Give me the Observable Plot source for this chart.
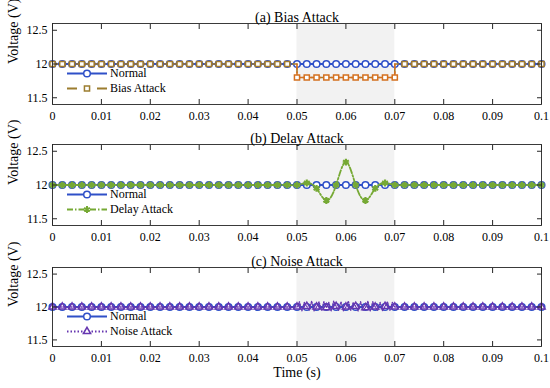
<!DOCTYPE html>
<html><head><meta charset="utf-8">
<script src="https://cdn.jsdelivr.net/npm/d3@7"></script>
<script src="https://cdn.jsdelivr.net/npm/@observablehq/plot@0.6"></script>
<style>
body{margin:0;background:#fff;}
#chart{width:550px;height:388px;position:relative;overflow:hidden;font-family:"Liberation Serif","Times New Roman",serif;background:#fff;}
.panel{position:relative;height:auto;}
.panel svg{display:block;}
.legend{position:absolute;left:65px;font-size:12px;line-height:15px;color:#000;font-family:"Liberation Serif",serif;}
.row{display:flex;align-items:center;height:15px;}
.row svg{display:block;margin-right:1px;}
</style>
</head><body><div id="chart"></div>
<script>
// ---------- data ----------
const time = [0,0.002,0.004,0.006,0.008,0.01,0.012,0.014,0.016,0.018,0.02,0.022,0.024,0.026,0.028,0.03,0.032,0.034,0.036,0.038,0.04,0.042,0.044,0.046,0.048,0.05,0.052,0.054,0.056,0.058,0.06,0.062,0.064,0.066,0.068,0.07,0.072,0.074,0.076,0.078,0.08,0.082,0.084,0.086,0.088,0.09,0.092,0.094,0.096,0.098,0.1];
const normalV = [12,12,12,12,12,12,12,12,12,12,12,12,12,12,12,12,12,12,12,12,12,12,12,12,12,12,12,12,12,12,12,12,12,12,12,12,12,12,12,12,12,12,12,12,12,12,12,12,12,12,12];
const biasV = [12,12,12,12,12,12,12,12,12,12,12,12,12,12,12,12,12,12,12,12,12,12,12,12,12,11.8,11.8,11.8,11.8,11.8,11.8,11.8,11.8,11.8,11.8,11.8,12,12,12,12,12,12,12,12,12,12,12,12,12,12,12];
const delayV = [12,12,12,12,12,12,12,12,12,12,12,12,12,12,12,12,12,12,12,12,12,12,12,12,12,12.0,12.03,11.95,11.77,12.0,12.34,12.0,11.77,11.95,12.03,12.0,12,12,12,12,12,12,12,12,12,12,12,12,12,12,12];
const noiseBurstTime = [0.05,0.0505,0.051,0.0515,0.052,0.0525,0.053,0.0535,0.054,0.0545,0.055,0.0555,0.056,0.0565,0.057,0.0575,0.058,0.0585,0.059,0.0595,0.06,0.0605,0.061,0.0615,0.062,0.0625,0.063,0.0635,0.064,0.0645,0.065,0.0655,0.066,0.0665,0.067,0.0675,0.068,0.0685,0.069,0.0695,0.07];
const noiseBurstV = [12.00,12.08,11.94,12.07,12.01,11.95,12.09,11.94,12.00,12.08,11.95,12.08,11.99,12.07,11.94,12.09,12.01,11.95,12.08,11.94,12.00,12.09,11.95,12.07,12.01,11.94,12.08,11.95,11.99,12.09,11.94,12.08,12.00,11.95,12.07,11.94,12.01,12.08,11.95,12.07,12.00];
const attackWindow = [0.05, 0.07];
const xTicks = [0,0.01,0.02,0.03,0.04,0.05,0.06,0.07,0.08,0.09,0.1];
const xTickLabels = ["0","0.01","0.02","0.03","0.04","0.05","0.06","0.07","0.08","0.09","0.1"];
const yTicks = [11.5,12,12.5];
const yTickLabels = ["11.5","12","12.5"];
const yDomain = [11.4,12.6];
const titles = ["(a) Bias Attack","(b) Delay Attack","(c) Noise Attack"];
const seriesNames = ["Normal","Bias Attack","Delay Attack","Noise Attack"];

// ---------- styles ----------
const C = {normal:"#2f50c8", bias:"#d4701f", biasOut:"#a27a2c", biasLegend:"#9c7d2f", delay:"#76a934", noise:"#6636b0", axis:"#262626", shade:"#f2f2f2"};
const FONT = "Liberation Serif";

const inWin = t => t >= attackWindow[0] - 1e-9 && t <= attackWindow[1] + 1e-9;
const normalPts = time.map((t,i)=>({t, v: normalV[i]}));
const biasPts = time.map((t,i)=>({t, v: biasV[i]}));
const biasLine = [];
time.forEach((t,i)=>{
  const v = biasV[i];
  if (i>0 && v!==biasV[i-1] && v!==normalV[i]) biasLine.push({t, v: biasV[i-1]});
  biasLine.push({t, v});
  if (i<time.length-1 && v!==biasV[i+1] && v!==normalV[i]) biasLine.push({t, v: biasV[i+1]});
});
const delayPts = time.map((t,i)=>({t, v: delayV[i]}));
const noiseLine = [
  ...time.map((t,i)=>({t, v: normalV[i]})).filter(d=>d.t < attackWindow[0]-1e-9),
  ...noiseBurstTime.map((t,i)=>({t, v: noiseBurstV[i]})),
  ...time.map((t,i)=>({t, v: normalV[i]})).filter(d=>d.t > attackWindow[1]+1e-9)
];
const noiseMarks = noiseLine.filter(d => time.some(g => Math.abs(g - d.t) < 1e-9));

function frameMarks(){
  return [
    Plot.frame({stroke: C.axis, strokeWidth: 0.9}),
    Plot.axisX(xTicks, {anchor:"bottom", tickSize:-5, tickPadding:12, tickFormat:(d,i)=>xTickLabels[i], label:null, fontSize:12, stroke: C.axis, color:"#000"}),
    Plot.axisX(xTicks, {anchor:"top", tickSize:-5, tickFormat:()=>"", label:null, stroke: C.axis}),
    Plot.axisY(yTicks, {anchor:"left", tickSize:-5, tickPadding:10, tickFormat:(d,i)=>yTickLabels[i], label:null, fontSize:12, stroke: C.axis}),
    Plot.axisY(yTicks, {anchor:"right", tickSize:-5, tickFormat:()=>"", label:null, stroke: C.axis})
  ];
}

function basePlot({height, marginTop, marginBottom, title, marks, xlabel}){
  return Plot.plot({
    width: 550, height, marginLeft: 52, marginRight: 9, marginTop, marginBottom,
    x: {domain:[0,0.1]},
    y: {domain: yDomain},
    style: {fontFamily: FONT, fontSize:"12px", color:"#000", background:"white", overflow:"visible"},
    marks: [
      Plot.rectX([attackWindow], {x1: d=>d[0], x2: d=>d[1], fill: C.shade}),
      Plot.line(normalPts, {x:"t", y:"v", stroke: C.normal, strokeWidth: 2}),
      Plot.dot(normalPts, {x:"t", y:"v", r:3.3, stroke: C.normal, fill:"white", strokeWidth:1.5}),
      ...marks,
      ...frameMarks(),
      Plot.text([title], {frameAnchor:"top", dy:-11, fontSize:14, fill:"#000"}),
      Plot.text(["Voltage (V)"], {frameAnchor:"left", rotate:-90, dx:-39, fontSize:14, fill:"#000"}),
      ...(xlabel ? [Plot.text([xlabel], {frameAnchor:"bottom", dy:30, fontSize:14, fill:"#000"})] : [])
    ]
  });
}

function symPath(type, r){ return d3.symbol(type, Math.PI*r*r)(); }
function legend(items, top){
  const div = document.createElement("div");
  div.className = "legend";
  div.style.top = top + "px";
  for (const it of items){
    const row = document.createElement("div"); row.className = "row";
    const ns = "http://www.w3.org/2000/svg";
    const svg = document.createElementNS(ns, "svg");
    svg.setAttribute("width", 44); svg.setAttribute("height", 15);
    const line = document.createElementNS(ns, "line");
    line.setAttribute("x1", 2); line.setAttribute("x2", 42); line.setAttribute("y1", 7.5); line.setAttribute("y2", 7.5);
    line.setAttribute("stroke", it.color); line.setAttribute("stroke-width", it.width || 1.8);
    if (it.dash) line.setAttribute("stroke-dasharray", it.dash);
    svg.appendChild(line);
    const p = document.createElementNS(ns, "path");
    p.setAttribute("d", symPath(it.symbol, it.r));
    p.setAttribute("transform", "translate(22,7.5)");
    p.setAttribute("stroke", it.color); p.setAttribute("stroke-width", it.sw || 1.5);
    p.setAttribute("fill", it.fill || "white");
    svg.appendChild(p);
    row.appendChild(svg);
    const s = document.createElement("span"); s.textContent = it.label;
    row.appendChild(s);
    div.appendChild(row);
  }
  return div;
}

const chart = document.getElementById("chart");
const normalItem = {label: seriesNames[0], color: C.normal, symbol: d3.symbolCircle, r: 3.3, width: 2};

// Panel A
const pa = document.createElement("div"); pa.className = "panel";
pa.appendChild(basePlot({height:122, marginTop:23, marginBottom:18, title:titles[0], marks:[
  Plot.line(biasLine, {x:"t", y:"v", stroke: C.biasOut, strokeWidth:1.6, strokeDasharray:"5,3"}),
  Plot.line(biasLine.filter(d=>inWin(d.t)), {x:"t", y:"v", stroke: C.bias, strokeWidth:1.6, strokeDasharray:"5,3"}),
  Plot.dot(biasPts, {x:"t", y:"v", symbol:"square", r:2.9, stroke: d => d.v !== 12 ? C.bias : C.biasOut, fill:"white", strokeWidth:1.5})
]}));
pa.appendChild(legend([normalItem, {label: seriesNames[1], color: C.biasLegend, symbol: d3.symbolSquare, r:2.9, dash:"10,20"}], 23+43));
chart.appendChild(pa);

// Panel B
const pb = document.createElement("div"); pb.className = "panel";
pb.appendChild(basePlot({height:121, marginTop:22, marginBottom:18, title:titles[1], marks:[
  Plot.line(delayPts, {x:"t", y:"v", curve:"natural", stroke: C.delay, strokeWidth:1.8, strokeDasharray:"6,2,1.5,2"}),
  Plot.dot(delayPts, {x:"t", y:"v", symbol:"asterisk", r:3.2, stroke: C.delay, strokeWidth:2.2})
]}));
pb.appendChild(legend([normalItem, {label: seriesNames[2], color: C.delay, symbol: d3.symbolAsterisk, r:3.2, sw:2, dash:"6,2,1.5,2"}], 22+43));
chart.appendChild(pb);

// Panel C
const pc = document.createElement("div"); pc.className = "panel";
pc.appendChild(basePlot({height:145, marginTop:24, marginBottom:42, title:titles[2], xlabel:"Time (s)", marks:[
  Plot.dot(noiseMarks, {x:"t", y:"v", symbol:"triangle", r:2.7, stroke: C.noise, fill:"white", strokeWidth:1.5}),
  Plot.line(noiseLine, {x:"t", y:"v", stroke: C.noise, strokeWidth:1.3, strokeDasharray:"1.2,1.4"})
]}));
pc.appendChild(legend([normalItem, {label: seriesNames[3], color: C.noise, symbol: d3.symbolTriangle, r:2.7, dash:"1.5,2"}], 24+42));
chart.appendChild(pc);
</script>
</body></html>
